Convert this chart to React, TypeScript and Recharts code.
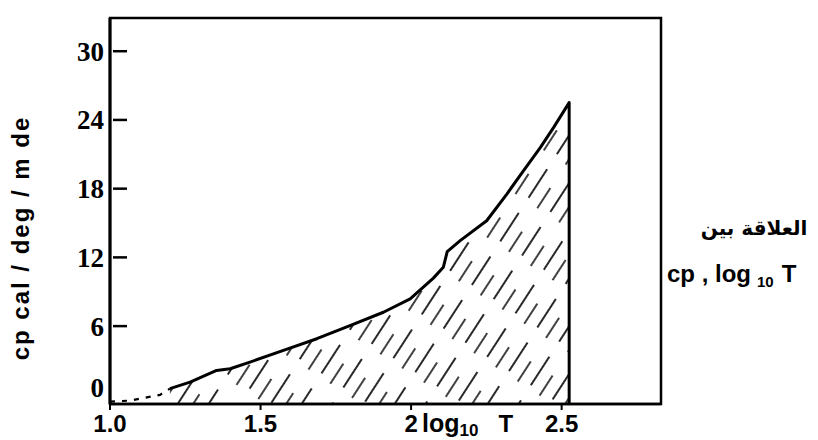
import React from 'react';
import { ComposedChart, Area, Line, XAxis, YAxis, ReferenceArea } from 'recharts';

// log10 T values along the solid curve
const logT = [1.199, 1.266, 1.354, 1.399, 1.465, 1.576, 1.687, 1.797, 1.908, 1.997, 2.074, 2.107, 2.12, 2.163, 2.251, 2.318, 2.373, 2.429, 2.473, 2.525];
// cp (cal / deg / mole) values along the solid curve
const cpValues = [0.54, 1.11, 2.13, 2.28, 2.86, 3.88, 4.9, 6.05, 7.21, 8.38, 10.19, 11.13, 12.5, 13.46, 15.2, 17.53, 19.56, 21.59, 23.33, 25.51];
// dotted lead-in near the origin
const leadLogT = [1.0, 1.066, 1.166, 1.199];
const leadCp = [-0.6, -0.5, 0.0, 0.54];

const xTicks = [1.0, 1.5, 2.0, 2.5];
const xTickLabels = ['1.0', '1.5', '2', '2.5'];
const yTicks = [0, 6, 12, 18, 24, 30];
const X_DOMAIN: [number, number] = [1.0, 2.83];
const Y_DOMAIN: [number, number] = [-0.8, 32.9];

const curveData = [
  ...logT.map((x, i) => ({ x, cp: cpValues[i] })),
  { x: logT[logT.length - 1], cp: Y_DOMAIN[0] },
];
const leadData = leadLogT.map((x, i) => ({ x, cp: leadCp[i] }));

const SANS = 'Liberation Sans, Arial, sans-serif';
const SERIF = 'Liberation Serif, Times New Roman, serif';

const YTick = (props: any) => {
  const { x, y, payload } = props;
  const v = payload.value;
  return (
    <g>
      <text x={x} y={y + (v === 0 ? -7 : 0)} dy="0.35em" textAnchor="end" fontFamily={SERIF} fontWeight="bold" fontSize={27} fill="#000">
        {v}
      </text>
      {v !== 0 && <line x1={x + 9} x2={x + 23} y1={y} y2={y} stroke="#000" strokeWidth={2.5} />}
    </g>
  );
};

const XTick = (props: any) => {
  const { x, y, payload } = props;
  const idx = xTicks.indexOf(payload.value);
  const label = idx >= 0 ? xTickLabels[idx] : String(payload.value);
  return (
    <text x={x} y={y} dy="0.71em" textAnchor="middle" fontFamily={SANS} fontWeight="bold" fontSize={24} fill="#000">
      {label}
    </text>
  );
};

const XLabel = (props: any) => {
  const vb = props.viewBox || { x: 110, y: 404, width: 551 };
  const right = vb.x + vb.width;
  return (
    <g>
      <text x={vb.x + 312} y={vb.y + 28} fontFamily={SANS} fontWeight="bold" fontSize={25} fill="#000">
        log
        <tspan fontSize={17} dy={4}>10</tspan>
        <tspan dx={20} dy={-4} fontSize={24}>T</tspan>
      </text>
      <text x={right + 93} y={vb.y - 169} textAnchor="middle" fontFamily="DejaVu Sans, sans-serif" fontWeight="bold" fontSize={20} fill="#000">
        العلاقة بين
      </text>
      <text x={right + 6} y={vb.y - 122} fontFamily={SANS} fontWeight="bold" fontSize={24} fill="#000">
        cp , log
        <tspan fontSize={15} dy={5} dx={6}>10</tspan>
        <tspan dx={8} dy={-5}>T</tspan>
      </text>
    </g>
  );
};

const YLabel = () => {
  const cx = 29;
  const cy = 238;
  return (
    <text x={cx} y={cy} transform={`rotate(-90 ${cx} ${cy})`} textAnchor="middle" fontFamily={SANS} fontWeight="bold" fontSize={24} letterSpacing={2} fill="#000">
      cp cal / deg / m de
    </text>
  );
};

export default function App() {
  return (
    <div style={{ width: 818, height: 440, background: '#fff' }}>
      <style>{'body{margin:0;background:#fff}'}</style>
      <ComposedChart
        width={818}
        height={440}
        margin={{ top: 18, right: 157, bottom: 0, left: 50 }}
      >
        <defs>
          <pattern id="hatch" patternUnits="userSpaceOnUse" width="26" height="52" patternTransform="rotate(33)">
            <line x1="5" y1="0" x2="5" y2="52" stroke="#111" strokeWidth="1.8" strokeDasharray="34 18" />
            <line x1="18" y1="14" x2="18" y2="66" stroke="#111" strokeWidth="1.6" strokeDasharray="24 28" />
            <line x1="18" y1="-38" x2="18" y2="14" stroke="#111" strokeWidth="1.6" strokeDasharray="24 28" />
          </pattern>
        </defs>
        <XAxis
          dataKey="x"
          type="number"
          domain={X_DOMAIN}
          ticks={xTicks}
          allowDataOverflow
          height={36}
          tick={<XTick />}
          tickSize={6}
          tickMargin={5}
          tickLine={{ stroke: '#000', strokeWidth: 2 }}
          axisLine={{ stroke: '#000', strokeWidth: 2.5 }}
          label={<XLabel />}
        />
        <YAxis
          type="number"
          domain={Y_DOMAIN}
          ticks={yTicks}
          allowDataOverflow
          width={60}
          tick={<YTick />}
          tickSize={0}
          tickMargin={6}
          tickLine={false}
          axisLine={{ stroke: '#000', strokeWidth: 3 }}
          label={<YLabel />}
        />
        <ReferenceArea
          x1={X_DOMAIN[0]}
          x2={X_DOMAIN[1]}
          y1={Y_DOMAIN[0]}
          y2={Y_DOMAIN[1]}
          fill="none"
          fillOpacity={0}
          stroke="#000"
          strokeWidth={2.5}
          ifOverflow="visible"
        />
        <Area
          data={curveData}
          dataKey="cp"
          type="linear"
          baseValue={Y_DOMAIN[0]}
          stroke="#000"
          strokeWidth={3}
          strokeLinejoin="round"
          fill="url(#hatch)"
          fillOpacity={1}
          dot={false}
          activeDot={false}
          isAnimationActive={false}
        />
        <Line
          data={leadData}
          dataKey="cp"
          type="linear"
          stroke="#000"
          strokeWidth={2.2}
          strokeDasharray="5 7"
          dot={false}
          activeDot={false}
          isAnimationActive={false}
        />
      </ComposedChart>
    </div>
  );
}
